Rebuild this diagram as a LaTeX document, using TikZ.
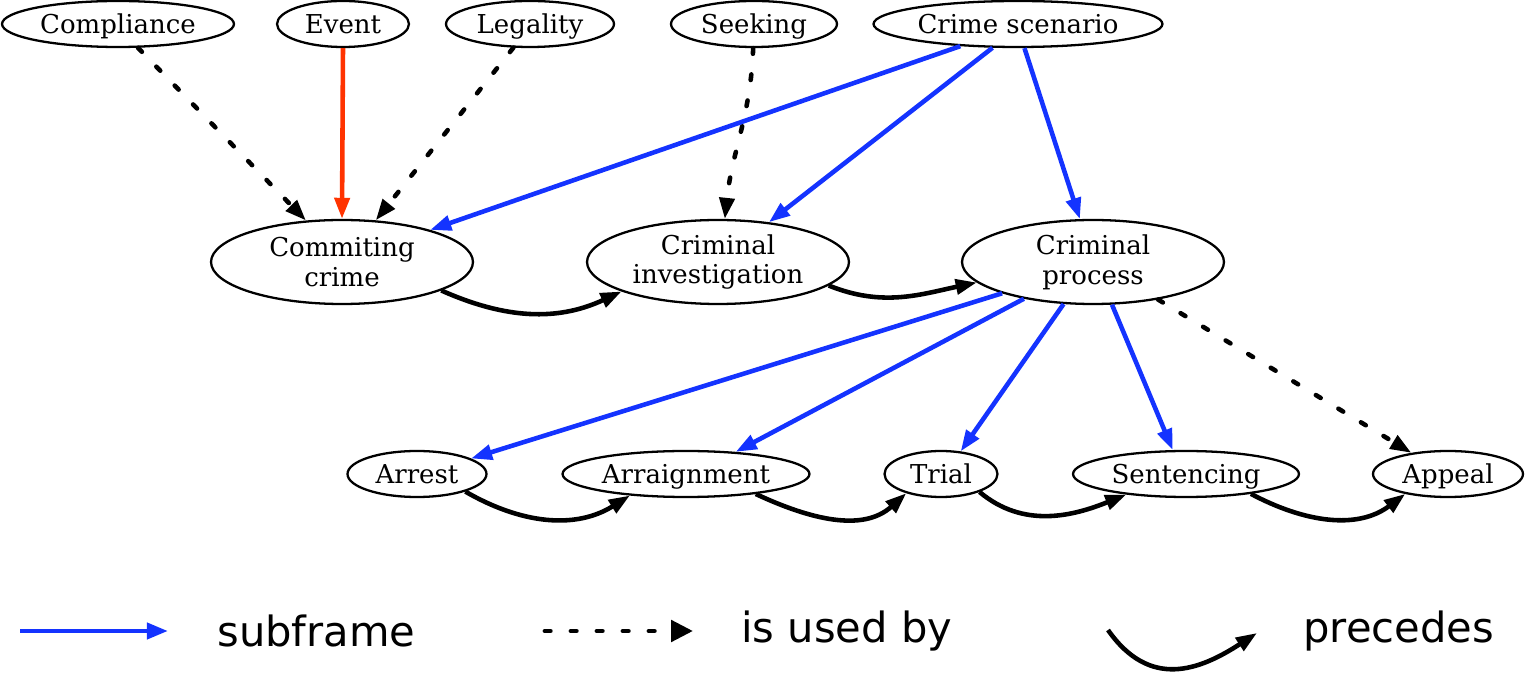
\documentclass[tikz,border=0pt]{standalone}
\usepackage{fontspec}
\setmainfont{DejaVu Serif}
\newfontfamily\legendfont{DejaVu Sans}
\usetikzlibrary{shapes.geometric,arrows.meta}
\definecolor{subblue}{RGB}{20,51,255}
\definecolor{evred}{RGB}{255,51,0}
\tikzset{
  frame/.style={ellipse,draw,line width=1.3pt,inner sep=0pt,align=center,
    font=\fontsize{14.8}{17}\selectfont},
  small/.style={frame,minimum height=0.92cm,text height=10.8pt,text depth=0pt},
  big/.style={frame,minimum width=5.24cm,minimum height=1.68cm},
  tip/.style={-{Triangle[length=12pt,width=8.5pt]}},
  subframe/.style={tip,draw=subblue,fill=subblue,line width=2.6pt},
  usedby/.style={tip,line width=2.6pt,line cap=round,dash pattern=on 3.2pt off 11.8pt},
  precedes/.style={tip,line width=2.6pt},
  eventedge/.style={tip,draw=evred,fill=evred,line width=2.6pt},
  legtext/.style={anchor=west,font=\legendfont\fontsize{23.7}{28}\selectfont,inner sep=0pt},
}
\begin{document}
\begin{tikzpicture}[x=0.02cm,y=-0.02cm]
\useasboundingbox (0,0) rectangle (1526,675);
% top row
\node[small,minimum width=4.64cm] (compl) at (118,24) {Compliance};
\node[small,minimum width=2.64cm] (event) at (343,24) {Event};
\node[small,minimum width=3.36cm] (legal) at (530,24) {Legality};
\node[small,minimum width=3.32cm] (seek) at (754,24) {Seeking};
\node[small,minimum width=5.78cm] (scen) at (1018,24) {Crime scenario};
% middle row
\node[big] (commit) at (342,262) {Commiting\\crime};
\node[big] (invest) at (718,262) {Criminal\\investigation};
\node[big] (proc) at (1093,262) {Criminal\\process};
% bottom row
\node[small,minimum width=2.78cm] (arrest) at (417,474) {Arrest};
\node[small,minimum width=4.94cm] (arraign) at (686,474) {Arraignment};
\node[small,minimum width=2.26cm] (trial) at (941,474) {Trial};
\node[small,minimum width=4.52cm] (sent) at (1186,474) {Sentencing};
\node[small,minimum width=3.0cm] (appeal) at (1448,474) {Appeal};
% edges into Commiting crime
\draw[usedby] (compl.-50) -- (commit.131);
\draw[eventedge] (event.south) -- (commit.north);
\draw[usedby] (legal.-125) -- (commit.51);
\draw[usedby] (seek.-92) to[out=-92,in=84] (invest.81);
% subframes of crime scenario
\draw[subframe] (scen.-159) -- (commit.20);
\draw[subframe] (scen.-137) -- (invest.38);
\draw[subframe] (scen.-75) -- (proc.107);
% precedes, middle row
\draw[precedes] (commit.-16) to[out=-24,in=205] (invest.197);
\draw[precedes] (invest.-12) to[out=-22,in=192] (proc.-170);
% subframes of criminal process
\draw[subframe] (proc.-161) -- (arrest.16);
\draw[subframe] (proc.-152) -- (arraign.24);
\draw[subframe] (proc.-125) -- (trial.49);
\draw[subframe] (proc.-66) -- (sent.119);
\draw[usedby] (proc.-30) -- (appeal.150);
% precedes, bottom row
\draw[precedes] (arrest.-20) to[out=-30,in=212] (arraign.-159);
\draw[precedes] (arraign.-16) to[out=-25,in=222] (trial.-151);
\draw[precedes] (trial.-25) to[out=-40,in=202] (sent.-161);
\draw[precedes] (sent.-17) to[out=-28,in=217] (appeal.-155);
% legend
\coordinate (l1a) at (20,631);
\coordinate (l1b) at (168,631);
\coordinate (l2a) at (545,631);
\coordinate (l2b) at (693,631);
\coordinate (l3a) at (1108,630);
\coordinate (l3b) at (1257,633);
\draw[subframe,-{Triangle[length=12pt,width=9pt]}] (l1a) -- (l1b);
\draw[tip,line width=2.8pt,line cap=round,dash pattern=on 3pt off 11.8pt,-{Triangle[length=12.5pt,width=12pt]}] (l2a) -- (l2b);
\draw[precedes] (l3a) .. controls (1150,690) and (1200,670) .. (l3b);
\node[legtext] (t1) at (217,631) {subframe};
\node[legtext] (t2) at (741,631) {is used by};
\node[legtext] (t3) at (1303,631) {precedes};
\end{tikzpicture}
\end{document}
